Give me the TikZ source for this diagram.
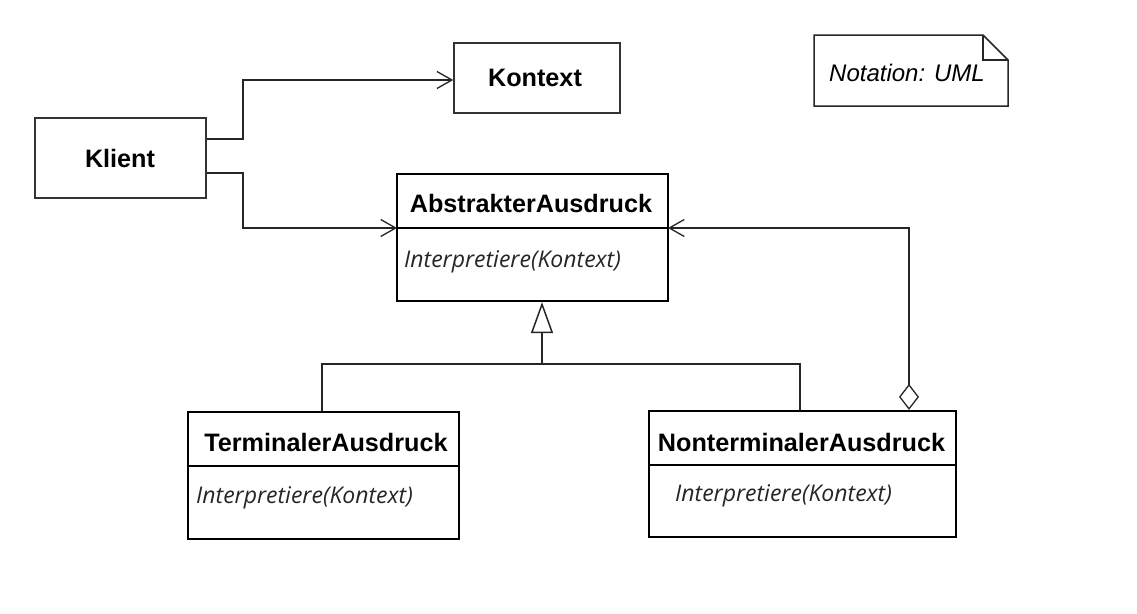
\documentclass[tikz,border=0pt]{standalone}
\usepackage{fontspec}
\setmainfont{Liberation Sans}
\newfontfamily\methodfont{Open Sans}
\usetikzlibrary{arrows.meta,calc}
\begin{document}
\begin{tikzpicture}[x=1pt,y=-1pt,
  plainbox/.style={draw=black!80,line width=1.5pt,inner sep=0pt},
  classbox/.style={draw=black,line width=2.2pt,inner sep=0pt},
  title/.style={font=\fontsize{25.2}{29}\selectfont\bfseries,inner sep=0pt},
  method/.style={font=\fontsize{23}{27}\methodfont\itshape,inner sep=0pt,anchor=west,text=black!85},
  conn/.style={draw=black!85,line width=1.3pt},
  assoc/.style={conn,-{Straight Barb[length=15pt,width=17pt,line width=1.3pt]}},
  divider/.style={line width=1.5pt}]
\useasboundingbox (0,0) rectangle (1137,613);
\fill[white] (0,0) rectangle (1137,613);
% Klient and Kontext
\node[plainbox,minimum width=171pt,minimum height=80pt] (kl) at (120.5,158) {};
\node[title] (klt) at (120,158) {Klient};
\node[plainbox,minimum width=166pt,minimum height=70pt] (ko) at (537,78) {};
\node[title] (kot) at (535,78) {Kontext};
% AbstrakterAusdruck
\node[classbox,minimum width=271pt,minimum height=127pt] (abs) at (532.5,237.5) {};
\coordinate (absL) at (397,228);
\coordinate (absR) at (668,228);
\draw[divider] (absL) -- (absR);
\node[title] (abst) at (531,203) {AbstrakterAusdruck};
\node[method] (absm) at (404,262) {Interpretiere(Kontext)};
% TerminalerAusdruck
\node[classbox,minimum width=271pt,minimum height=127pt] (ter) at (323.5,475.5) {};
\coordinate (terL) at (188,466);
\coordinate (terR) at (459,466);
\draw[divider] (terL) -- (terR);
\node[title] (tert) at (326,442) {TerminalerAusdruck};
\node[method] (term) at (196,498) {Interpretiere(Kontext)};
% NonterminalerAusdruck
\node[classbox,minimum width=307pt,minimum height=126pt] (nt) at (802.5,474) {};
\coordinate (ntL) at (649,465);
\coordinate (ntR) at (956,465);
\draw[divider] (ntL) -- (ntR);
\node[title] (ntt) at (801.5,442) {NonterminalerAusdruck};
\node[method] (ntm) at (675,496) {Interpretiere(Kontext)};
% Note
\coordinate (nA) at (814,35);
\coordinate (nB) at (983,35);
\coordinate (nC) at (1008,60);
\coordinate (nD) at (1008,106);
\coordinate (nE) at (814,106);
\coordinate (nF) at (983,60);
\draw[draw=black!85,line width=1.5pt,line join=miter] (nA) -- (nB) -- (nC) -- (nD) -- (nE) -- cycle;
\draw[draw=black!85,line width=1.5pt] (nB) -- (nF) -- (nC);
\node[font=\fontsize{24}{28}\selectfont\itshape,inner sep=0pt] (note) at (907,73) {Notation: UML};
% connectors from Klient
\coordinate (k1) at (kl.east |- 0,139);
\coordinate (k2) at (kl.east |- 0,173);
\draw[assoc] (k1) -- (243,139) -- (243,80) -- (ko.west |- 0,80);
\draw[assoc] (k2) -- (243,173) -- (243,228) -- (absL);
% generalization
\coordinate (j) at (542,364);
\coordinate (tj) at (322,364);
\coordinate (nj) at (800,364);
\draw[conn] (tj |- ter.north) -- (tj) -- (nj) -- (nj |- nt.north);
\draw[conn,-{Triangle[open,length=31pt,width=22pt,line width=1.5pt]}] (j) -- (j |- abs.south);
% aggregation
\coordinate (ag) at (909,228);
\draw[conn,{Diamond[open,length=26pt,width=20pt,line width=1.3pt]}-{Straight Barb[length=15pt,width=17pt,line width=1.3pt]}] (ag |- nt.north) -- (ag) -- (absR);
\end{tikzpicture}
\end{document}
